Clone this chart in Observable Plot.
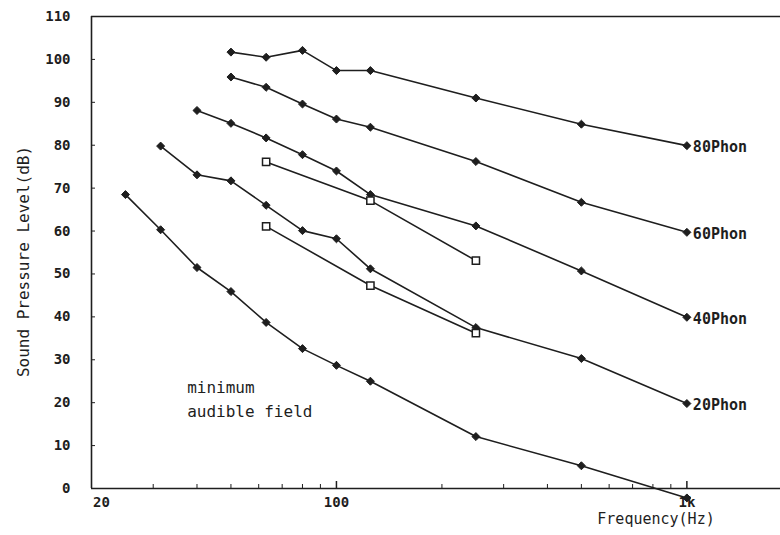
<!DOCTYPE html>
<html>
<head>
<meta charset="utf-8">
<script src="https://cdn.jsdelivr.net/npm/d3@7"></script>
<script src="https://cdn.jsdelivr.net/npm/@observablehq/plot@0.6"></script>
<style>
  html, body { margin: 0; padding: 0; background: #fff; overflow: hidden; }
  #chart { width: 780px; height: 535px; }
</style>
</head>
<body>
<div id="chart"></div>
<script>
// ---- Data ----
const mafFreq   = [25, 31.5, 40, 50, 63, 80, 100, 125, 250, 500, 1000];
const mafSPL    = [68.5, 60.3, 51.5, 45.9, 38.7, 32.6, 28.7, 25.0, 12.1, 5.3, -2.2];

const phon20Freq = [31.5, 40, 50, 63, 80, 100, 125, 250, 500, 1000];
const phon20SPL  = [79.8, 73.1, 71.7, 66.0, 60.1, 58.2, 51.2, 37.5, 30.3, 19.8];

const phon40Freq = [40, 50, 63, 80, 100, 125, 250, 500, 1000];
const phon40SPL  = [88.1, 85.1, 81.7, 77.8, 74.0, 68.5, 61.2, 50.7, 39.9];

const phon60Freq = [50, 63, 80, 100, 125, 250, 500, 1000];
const phon60SPL  = [95.9, 93.5, 89.6, 86.1, 84.2, 76.2, 66.7, 59.7];

const phon80Freq = [50, 63, 80, 100, 125, 250, 500, 1000];
const phon80SPL  = [101.7, 100.5, 102.1, 97.4, 97.4, 91.0, 84.9, 79.9];

const sqUpperFreq = [63, 125, 250];
const sqUpperSPL  = [76.1, 67.1, 53.1];
const sqLowerFreq = [63, 125, 250];
const sqLowerSPL  = [61.1, 47.3, 36.2];

const phonLabels = ["80Phon", "60Phon", "40Phon", "20Phon"];
const yTicks = [0, 10, 20, 30, 40, 50, 60, 70, 80, 90, 100, 110];
const xMajorTicks = [100, 1000];
const xMajorLabels = ["100", "1k"];
const xMinorTicks = [30, 40, 50, 60, 70, 80, 90, 200, 300, 400, 500, 600, 700, 800, 900];
const annotation = "minimum\naudible field";

// ---- Build tables ----
const toRows = (name, fs, vs) => fs.map((f, i) => ({series: name, f, v: vs[i]}));
const diamondSeries = [
  ...toRows("maf", mafFreq, mafSPL),
  ...toRows("p20", phon20Freq, phon20SPL),
  ...toRows("p40", phon40Freq, phon40SPL),
  ...toRows("p60", phon60Freq, phon60SPL),
  ...toRows("p80", phon80Freq, phon80SPL)
];
const squareSeries = [
  ...toRows("sqU", sqUpperFreq, sqUpperSPL),
  ...toRows("sqL", sqLowerFreq, sqLowerSPL)
];
const labelRows = [
  {label: phonLabels[0], f: phon80Freq.at(-1), v: phon80SPL.at(-1)},
  {label: phonLabels[1], f: phon60Freq.at(-1), v: phon60SPL.at(-1)},
  {label: phonLabels[2], f: phon40Freq.at(-1), v: phon40SPL.at(-1)},
  {label: phonLabels[3], f: phon20Freq.at(-1), v: phon20SPL.at(-1)}
];

const ink = "#1e1e1e";
const FRAME_H = 535 - 16 - 47;

const chart = Plot.plot({
  width: 780,
  height: 535,
  marginLeft: 91,
  marginRight: 0,
  marginTop: 16,
  marginBottom: 47,
  x: {type: "log", domain: [20, 1850]},
  y: {domain: [0, 110]},
  style: {fontFamily: "'DejaVu Sans Mono', monospace", fontSize: "15px", fontWeight: "bold", color: ink, background: "#fff"},
  marks: [
    // frame lines
    Plot.ruleY([0, 110], {stroke: ink, strokeWidth: 1.6}),
    Plot.ruleX([20], {stroke: ink, strokeWidth: 1.6}),
    // inward ticks
    Plot.tickY(yTicks, {stroke: ink, insetRight: 780 - 91 - 4}),
    Plot.tickX(xMinorTicks, {stroke: ink, insetTop: FRAME_H - 4}),
    Plot.tickX(xMajorTicks, {stroke: ink, strokeWidth: 1.5, insetTop: FRAME_H - 7}),
    // axes
    Plot.axisY({ticks: yTicks, tickSize: 0, tickPadding: 21, label: null, fontSize: 14}),
    Plot.axisX({ticks: xMajorTicks, tickFormat: (d) => xMajorLabels[xMajorTicks.indexOf(d)], tickSize: 0, tickPadding: 9, label: null, fontSize: 14}),
    Plot.axisX({ticks: [20], tickFormat: (d) => String(d), tickSize: 0, tickPadding: 9, label: null, dx: 10, fontSize: 14}),
    // curves
    Plot.line(diamondSeries, {x: "f", y: "v", z: "series", stroke: ink, strokeWidth: 1.6}),
    Plot.line(squareSeries, {x: "f", y: "v", z: "series", stroke: ink, strokeWidth: 1.6}),
    Plot.dot(diamondSeries, {x: "f", y: "v", symbol: "diamond2", r: 3.6, fill: ink, stroke: ink, strokeWidth: 1}),
    Plot.dot(squareSeries, {x: "f", y: "v", symbol: "square2", r: 4.6, fill: "#fff", stroke: ink, strokeWidth: 1.5}),
    // curve labels
    Plot.text(labelRows, {x: "f", y: "v", text: "label", textAnchor: "start", dx: 6, dy: 2, fontSize: 15, fill: ink}),
    // annotation
    Plot.text([annotation], {x: 37.5, y: 21.3, textAnchor: "start", lineAnchor: "middle", lineHeight: 1.5, fontSize: 16, fontWeight: "normal", fill: ink}),
    // axis titles
    Plot.text(["Sound Pressure Level(dB)"], {frameAnchor: "left", rotate: -90, dx: -68, dy: 9, fontSize: 16, fontWeight: "normal", fill: ink, textAnchor: "middle"}),
    Plot.text(["Frequency(Hz)"], {frameAnchor: "bottom", dx: 220, dy: 35, fontSize: 15, fontWeight: "normal", fill: ink, textAnchor: "middle"})
  ]
});

document.getElementById("chart").appendChild(chart);
</script>
</body>
</html>
